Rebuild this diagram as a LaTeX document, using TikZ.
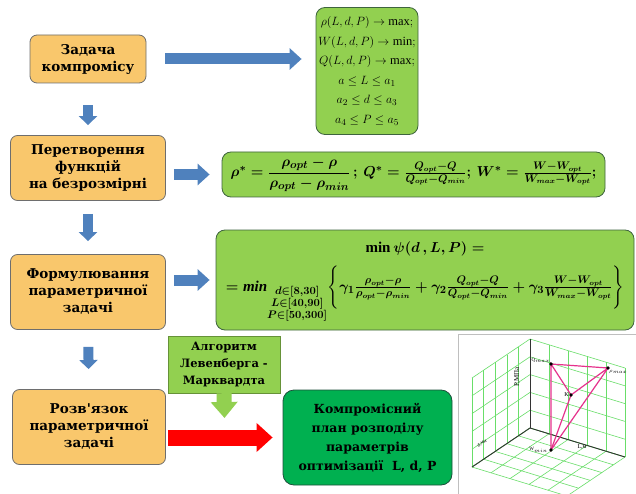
\documentclass[tikz,border=0pt]{standalone}
\usepackage{amsmath}
\usepackage{fontspec}
\setmainfont{Liberation Serif}
\newfontfamily\boxfont{DejaVu Serif}
\usepackage{tikz}
\usetikzlibrary{arrows.meta}
\usetikzlibrary{positioning}
\definecolor{sand}{RGB}{249, 199, 108}
\definecolor{ashgray}{RGB}{110, 110, 110}
\definecolor{lime}{RGB}{146, 208, 80}
\definecolor{moss}{RGB}{62, 100, 62}
\definecolor{emerald}{RGB}{0, 176, 80}
\definecolor{pine}{RGB}{30, 80, 60}
\definecolor{steel}{RGB}{79, 129, 189}
\definecolor{scarlet}{RGB}{255, 0, 0}
\definecolor{mint}{RGB}{105, 222, 105}
\definecolor{fuchsia}{RGB}{230, 50, 140}
\newcommand{\normtext}{$\rho^{*} = \dfrac{\rho_{opt}-\rho}{\rho_{opt}-\rho_{min}}\,;\, Q^{*} = \frac{Q_{opt}-Q}{Q_{opt}-Q_{min}};\,
  W^{*} = \frac{W-W_{opt}}{W_{max}-W_{opt}};$}
\newcommand{\goaltext}{$= \mathit{min}_{\substack{d\in[8,30]\\ L\in[40,90]\\ P\in[50,300]}}
  \Biggl\{\gamma_1\frac{\rho_{opt}-\rho}{\rho_{opt}-\rho_{min}} + \gamma_2\frac{Q_{opt}-Q}{Q_{opt}-Q_{min}}
  + \gamma_3\frac{W-W_{opt}}{W_{max}-W_{opt}}\Biggr\}$}
\tikzset{
  stepbox/.style={draw=ashgray, fill=sand, thick, rounded corners=7pt, align=center,
    font=\boxfont\bfseries\fontsize{13.5}{17}\selectfont, minimum width=155pt},
  formbox/.style={draw=moss, fill=lime, thick, rounded corners=9pt, align=center, inner sep=2pt},
  algobox/.style={draw=lime!70!black, fill=lime, align=center, inner sep=2pt,
    font=\boxfont\bfseries\fontsize{11.5}{17}\selectfont, minimum width=112pt, minimum height=57pt},
  planbox/.style={draw=pine, fill=emerald, thick, rounded corners=11pt, align=center,
    font=\boxfont\bfseries\fontsize{12.5}{19}\selectfont, minimum width=169pt, minimum height=95pt},
  downarrow/.style={draw=steel, line width=10pt, -{Triangle[length=9pt,width=18pt]}},
  rightarrow/.style={draw=steel, line width=11pt, -{Triangle[length=12pt,width=21pt]}},
  gridline/.style={draw=mint, line width=0.6pt},
  chartaxis/.style={draw=black!80, line width=0.9pt},
  chartlbl/.style={font=\fontsize{5}{5}\selectfont, inner sep=1pt},
}

\begin{document}
\begin{tikzpicture}[x=1pt, y=-1pt]
  \useasboundingbox (0,0) rectangle (636,494);

  % left column
  \node[stepbox, minimum width=116pt, minimum height=48pt] (zadacha) at (88,59) {Задача\\компромісу};
  \node[stepbox, minimum height=65pt] (peretv) at (88,168) {Перетворення\\функцій\\на безрозмірні};
  \node[stepbox, minimum height=75pt] (formul) at (88,292) {Формулювання\\параметричної\\задачі};
  \node[stepbox, minimum width=153pt, minimum height=75pt] (rozv) at (89,427) {Розв\symbol{39}язок\\параметричної\\задачі};

  % formulas
  \node[formbox, minimum width=102pt, minimum height=127pt, font=\fontsize{12.5}{19.5}\selectfont] (crit) at (367,71)
    {$\rho(L,d,P)\to\max;$\\ $W(L,d,P)\to\min;$\\ $Q(L,d,P)\to\max;$\\
     $a\le L\le a_1$\\ $a_2\le d\le a_3$\\ $a_4\le P\le a_5$};
  \node[formbox, minimum width=383pt, minimum height=45pt, font=\fontsize{15}{18}\selectfont\boldmath] (norm)
    at (413.5,174.5) {\normtext};
  \node[formbox, minimum width=418pt, minimum height=100pt, font=\fontsize{15}{18}\selectfont\boldmath] (goal)
    at (425,280) {$\min\psi(d\,,L,P) =$\\[9pt] \goaltext\\[-4pt]\mbox{}};

  % algorithm and result
  \node[algobox] (algo) at (224,364.5) {Алгоритм\\Левенберга -\\Марквардта};
  \node[planbox] (plan) at (367.5,437.5) {Компромісний\\план розподілу\\параметрів\\оптимізації~ L, d, P};
  \coordinate (algoend) at (224.5,418);

  % arrows
  \draw[downarrow, shorten <=22pt, shorten >=10pt] (zadacha.south) -- (peretv.north);
  \draw[downarrow, shorten <=13pt, shorten >=13pt] (peretv.south) -- (formul.north);
  \draw[downarrow, shorten <=17pt, shorten >=20pt] (formul.south) -- (rozv.north);
  \draw[rightarrow, shorten <=19pt, shorten >=14pt] (zadacha.east) -- (zadacha.east -| crit.west);
  \draw[rightarrow, shorten <=8pt, shorten >=12pt] (norm.west -| peretv.east) -- (norm.west);
  \draw[rightarrow, shorten <=8pt, shorten >=6pt] (goal.west -| formul.east) -- (goal.west);
  \draw[draw=lime, line width=15pt, -{Triangle[length=16pt,width=26pt]}] (algo.south) -- (algoend);
  \draw[draw=scarlet, line width=16pt, -{Triangle[length=16pt,width=28pt]}, shorten <=2pt, shorten >=10pt]
    (plan.west -| rozv.east) -- (plan.west);

  % 3d chart
  \draw[draw=black!25, fill=white] (458,334) rectangle (636,494);
  \begin{scope}
    \clip (458,334) rectangle (636,494);
    \foreach \i in {0,...,5} {
      \draw[gridline] ({530+19*\i},{428+5.8*\i}) -- ++(0,-89);
      \draw[gridline] ({530-11.6*\i},{428+7.8*\i}) -- ++(0,-89);
      \draw[gridline] (530,{428-17.8*\i}) -- ++(95,29);
      \draw[gridline] (530,{428-17.8*\i}) -- ++(-58,39);
      \draw[gridline] ({530+19*\i},{428+5.8*\i}) -- ++(-58,39);
      \draw[gridline] ({530-11.6*\i},{428+7.8*\i}) -- ++(95,29);
    }
  \end{scope}
  \coordinate (orig) at (530,428);
  \draw[chartaxis] (orig) -- (530,339);
  \draw[chartaxis] (orig) -- (625,457);
  \draw[chartaxis] (orig) -- (472,467);
  \node[chartlbl, font=\fontsize{7}{7}\selectfont, rotate=90] (paxis) at (517,377) {P,МПа};
  \node[chartlbl, font=\fontsize{6}{6}\selectfont] (laxis) at (582,447) {L,м};
  \node[chartlbl, rotate=35] (daxis) at (482,443) {d,мм};

  \coordinate (qmax) at (551,364);
  \coordinate (rmax) at (608,368);
  \coordinate (kpt) at (571,395);
  \coordinate (wmin) at (551,450);
  \draw[fuchsia, line width=1.2pt] (qmax) -- (rmax) -- (wmin) -- (qmax) -- (kpt) -- (rmax);
  \draw[fuchsia, line width=1.2pt] (kpt) -- (wmin);
  \foreach \p in {qmax, rmax, kpt, wmin} \fill (\p) circle (1.8pt);
  \node[chartlbl, above left=0pt and 0pt of qmax] (qlbl) {Q$_{max}$};
  \node[chartlbl, below right=1pt and 0pt of rmax] (rlbl) {$\rho_{max}$};
  \node[chartlbl, font=\fontsize{6}{6}\selectfont, left=1pt of kpt] (klbl) {K};
  \node[chartlbl, left=2pt of wmin] (wlbl) {W$_{min}$};
\end{tikzpicture}
\end{document}
